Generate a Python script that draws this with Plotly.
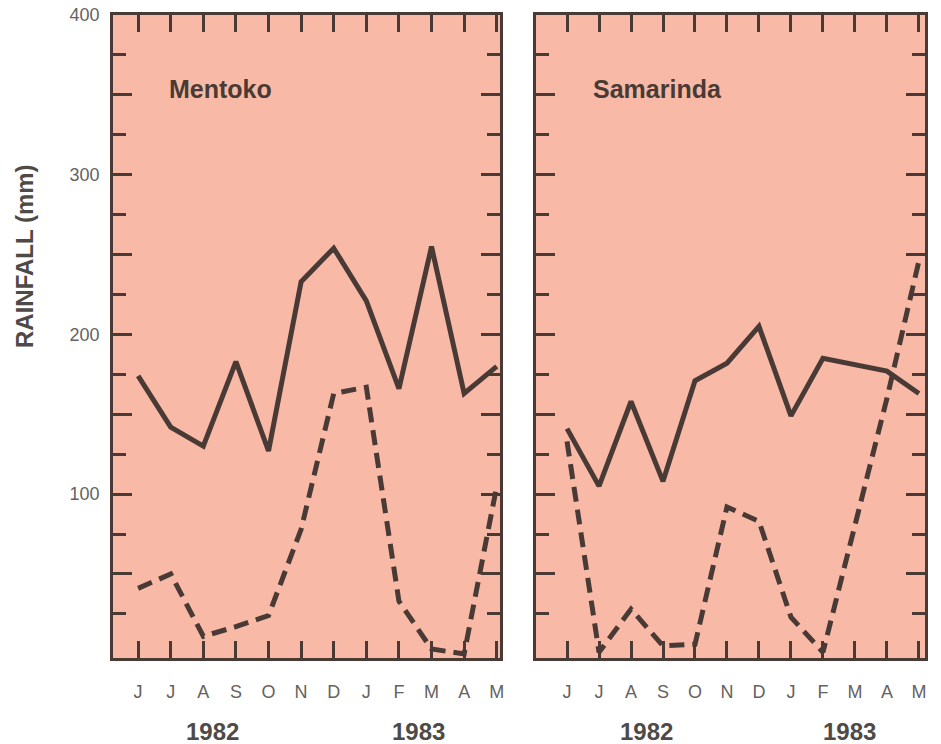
import plotly.graph_objects as go

months = ["J", "J", "A", "S", "O", "N", "D", "J", "F", "M", "A", "M"]
years = ["1982", "1983"]
stations = ["Mentoko", "Samarinda"]

# Rainfall (mm), June 1982 - May 1983
mentoko_solid = [174, 142, 130, 183, 127, 233, 254, 221, 166, 255, 163, 180]
mentoko_dashed = [41, 50, 11, 17, 24, 78, 163, 167, 33, 3, 0, 105]
samarinda_solid = [141, 105, 158, 108, 171, 182, 205, 149, 185, 181, 177, 163]
samarinda_dashed = [133, 1, 28, 5, 6, 92, 83, 23, 1, 80, 160, 246]

LINE = "#4a3a35"
BG = "#f8baa7"
W, H = 941, 744
FONT = "Liberation Sans, Arial, sans-serif"

x_idx = list(range(len(months)))

fig = go.Figure()
panels = [
    ("x", "y", mentoko_solid, mentoko_dashed),
    ("x2", "y2", samarinda_solid, samarinda_dashed),
]
for xa, ya, s, d in panels:
    fig.add_trace(go.Scatter(x=x_idx, y=s, xaxis=xa, yaxis=ya, mode="lines",
                             line=dict(color=LINE, width=5), showlegend=False))
    fig.add_trace(go.Scatter(x=x_idx, y=d, xaxis=xa, yaxis=ya, mode="lines",
                             line=dict(color=LINE, width=5, dash="15px,8px"),
                             showlegend=False))

def px_x(p):
    return p / W

def px_y(p):
    return (H - p) / H

ydom = [px_y(658), px_y(15)]

common_x = dict(
    tickvals=x_idx, ticktext=months, ticks="inside", ticklen=17, tickwidth=2.5,
    tickcolor=LINE, showline=True, linecolor=LINE, linewidth=2.5, mirror="ticks",
    showgrid=False, zeroline=False, ticklabelstandoff=16, automargin=False,
    tickfont=dict(family=FONT, size=18, color="#666260"),
)
yvals = list(range(50, 401, 50))
ytext = [str(v) if v % 100 == 0 else "" for v in yvals]
common_y = dict(
    range=[-2.6, 400], tickvals=yvals, ticktext=ytext, ticks="inside", ticklen=19,
    tickwidth=2.5, tickcolor=LINE, showline=True, linecolor=LINE, linewidth=2.5,
    mirror="ticks", showgrid=False, zeroline=False, ticklabelstandoff=7,
    automargin=False,
    minor=dict(tickvals=list(range(25, 400, 50)), ticks="inside", ticklen=13,
               tickwidth=2.5, tickcolor=LINE),
    tickfont=dict(family=FONT, size=18, color="#666260"),
)

fig.update_layout(
    width=W, height=H, margin=dict(l=0, r=0, t=0, b=0, autoexpand=False),
    paper_bgcolor="white", plot_bgcolor=BG,
    xaxis=dict(common_x, domain=[px_x(113), px_x(500)], range=[-0.77, 11.1], anchor="y"),
    yaxis=dict(common_y, domain=ydom, anchor="x"),
    xaxis2=dict(common_x, domain=[px_x(536), px_x(925)], range=[-0.97, 11.19], anchor="y2"),
    yaxis2=dict(common_y, domain=ydom, anchor="x2", showticklabels=False),
)

annots = []
# station names
for xr, yr, name, x0 in [("x domain", "y domain", stations[0], (167 - 113) / 387),
                         ("x2 domain", "y2 domain", stations[1], (591 - 536) / 389)]:
    annots.append(dict(xref=xr, yref=yr, x=x0, y=(658 - 89) / 643, text=name,
                       showarrow=False, xanchor="left", yanchor="middle",
                       font=dict(family=FONT, size=25, color="#4a3a35", weight="bold")))
# year labels
for xr, pos in [("x", [2.27, 8.6]), ("x2", [2.47, 8.84])]:
    for yr_txt, xp in zip(years, pos):
        annots.append(dict(xref=xr, yref="paper", x=xp, y=px_y(731), text=yr_txt,
                           showarrow=False, xanchor="center", yanchor="middle",
                           font=dict(family=FONT, size=24, color="#4e4a48", weight="bold")))
annots.append(dict(xref="paper", yref="paper", x=px_x(24), y=px_y(256),
                   text="RAINFALL (mm)", textangle=-90, showarrow=False,
                   xanchor="center", yanchor="middle",
                   font=dict(family=FONT, size=24, color="#4e4a48", weight="bold")))
fig.update_layout(annotations=annots)

fig.write_html("out.html")
